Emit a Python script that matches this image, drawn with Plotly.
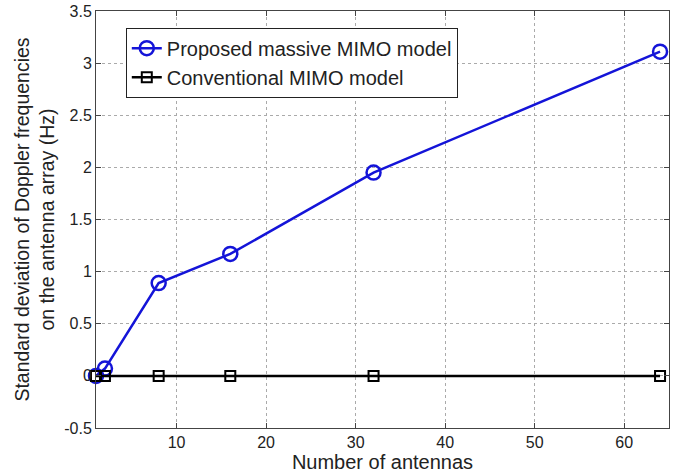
import plotly.graph_objects as go

# Number of antennas in the array
antennas = [1, 2, 8, 16, 32, 64]
# Standard deviation of Doppler frequencies (Hz)
proposed_std = [0.0, 0.07, 0.89, 1.17, 1.95, 3.11]
conventional_std = [0.0, 0.0, 0.0, 0.0, 0.0, 0.0]

x_ticks = [10, 20, 30, 40, 50, 60]
y_ticks = [-0.5, 0, 0.5, 1, 1.5, 2, 2.5, 3, 3.5]
y_tick_text = ["-0.5", "0", "0.5", "1", "1.5", "2", "2.5", "3", "3.5"]

FONT = "Liberation Sans, Arial, sans-serif"
TEXT = "#222"

fig = go.Figure()
fig.add_trace(go.Scatter(
    x=antennas, y=proposed_std, mode="lines+markers",
    name="Proposed massive MIMO model", cliponaxis=False,
    line=dict(color="#1414d8", width=2.5),
    marker=dict(symbol="circle-open", size=14, color="#1414d8",
                line=dict(width=2.5, color="#1414d8")),
))
fig.add_trace(go.Scatter(
    x=antennas, y=conventional_std, mode="lines+markers",
    name="Conventional MIMO model", cliponaxis=False,
    line=dict(color="black", width=2.5),
    marker=dict(symbol="square-open", size=10, color="black",
                line=dict(width=2, color="black")),
))

axis_common = dict(
    showline=True, linecolor="#444", linewidth=1, mirror="ticks",
    ticks="inside", ticklen=5, tickcolor="#444",
    showgrid=True, gridcolor="#aaa", griddash="dot", gridwidth=1,
    zeroline=False, automargin=False,
    tickfont=dict(family=FONT, size=16, color=TEXT),
)

fig.update_xaxes(
    range=[1, 65], tickvals=x_ticks,
    title=dict(text="Number of antennas", standoff=0,
               font=dict(family=FONT, size=20, color=TEXT)),
    **axis_common,
)
fig.update_yaxes(
    range=[-0.5, 3.5], tickvals=y_ticks, ticktext=y_tick_text,
    title=dict(text="Standard deviation of Doppler frequencies<br>on the antenna array (Hz)",
               standoff=4, font=dict(family=FONT, size=19.5, color=TEXT)),
    **axis_common,
)

fig.update_layout(
    width=682, height=473,
    margin=dict(l=96, r=13, t=11, b=45),
    paper_bgcolor="white", plot_bgcolor="white",
    showlegend=True,
    legend=dict(
        x=0.052, y=0.96, xanchor="left", yanchor="top",
        bgcolor="white", bordercolor="#222", borderwidth=1,
        font=dict(family=FONT, size=20, color=TEXT),
        tracegroupgap=2, itemwidth=30,
    ),
)

fig.write_html("out.html")
